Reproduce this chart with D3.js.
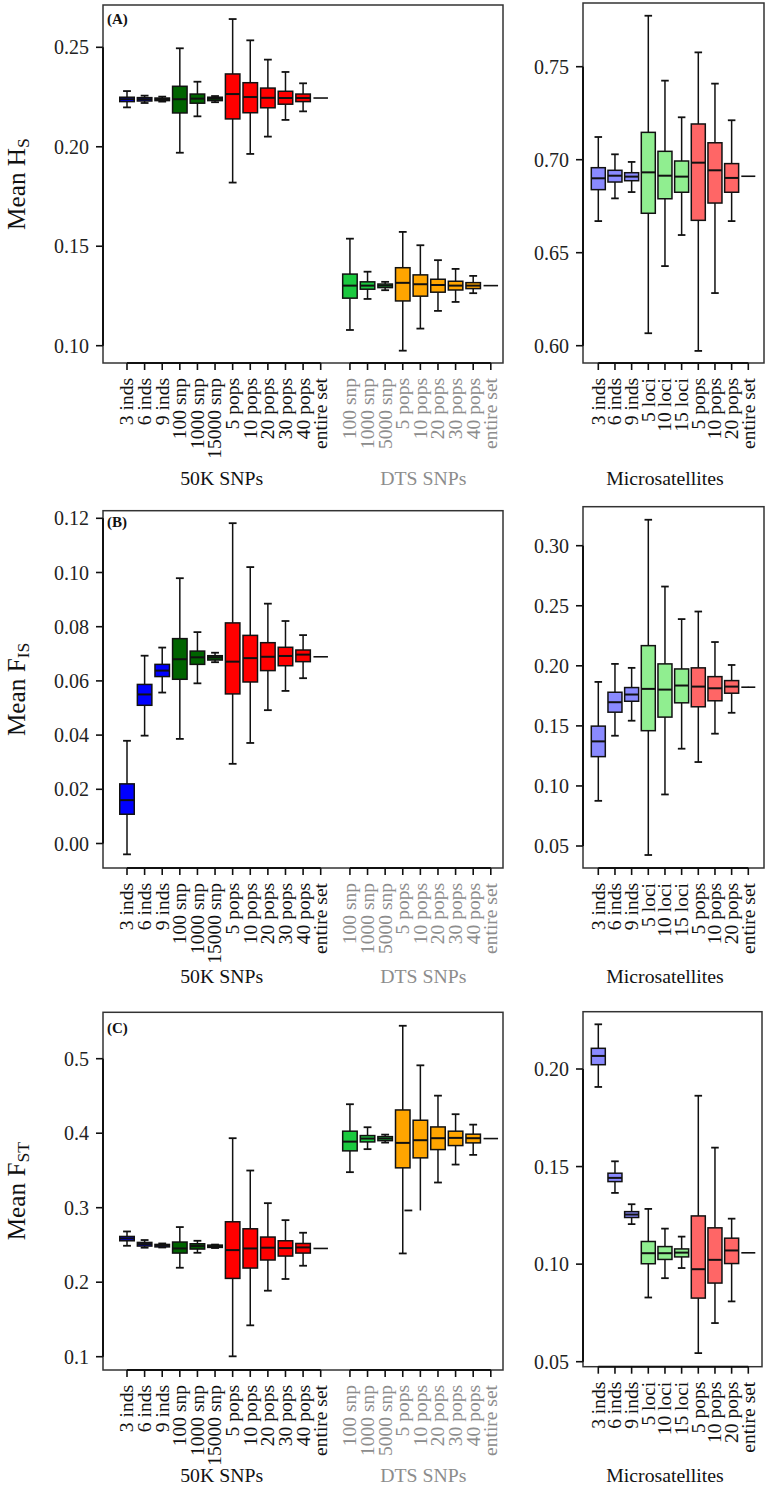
<!DOCTYPE html>
<html><head><meta charset="utf-8">
<script src="https://cdn.jsdelivr.net/npm/d3@7"></script>
<style>
body{margin:0;background:#fff}
svg{display:block}
text{font-family:"Liberation Serif","Times New Roman",serif}
</style>
</head><body>
<svg id="c" width="766" height="1487" font-family="Liberation Serif, Times New Roman, serif"></svg>
<script>
// ---------------- categories & tick labels ----------------
const cats50K = ["3 inds","6 inds","9 inds","100 snp","1000 snp","15000 snp","5 pops","10 pops","20 pops","30 pops","40 pops","entire set"];
const catsDTS = ["100 snp","1000 snp","5000 snp","5 pops","10 pops","20 pops","30 pops","40 pops","entire set"];
const catsMicro = ["3 inds","6 inds","9 inds","5 loci","10 loci","15 loci","5 pops","10 pops","20 pops","entire set"];
const group50K = ["inds","inds","inds","snp","snp","snp","pops","pops","pops","pops","pops","entire"];
const groupDTS = ["snpD","snpD","snpD","popsD","popsD","popsD","popsD","popsD","entire"];
const groupMicro = ["indsM","indsM","indsM","lociM","lociM","lociM","popsM","popsM","popsM","entire"];

const hsTicks = [0.10,0.15,0.20,0.25];
const hsMicroTicks = [0.60,0.65,0.70,0.75];
const fisTicks = [0.00,0.02,0.04,0.06,0.08,0.10,0.12];
const fisMicroTicks = [0.05,0.10,0.15,0.20,0.25,0.30];
const fstTicks = [0.1,0.2,0.3,0.4,0.5];
const fstMicroTicks = [0.05,0.10,0.15,0.20];

// ---------------- values: [lower whisker, Q1, median, Q3, upper whisker] ----------------
const hs50K = [
 [0.2198,0.2227,0.2239,0.2249,0.2280],
 [0.2220,0.2230,0.2239,0.2247,0.2257],
 [0.2227,0.2232,0.2240,0.2245,0.2252],
 [0.1970,0.2170,0.2239,0.2304,0.2495],
 [0.2153,0.2219,0.2242,0.2265,0.2327],
 [0.2224,0.2232,0.2242,0.2249,0.2255],
 [0.1820,0.2140,0.2265,0.2366,0.2642],
 [0.1964,0.2171,0.2250,0.2322,0.2535],
 [0.2051,0.2196,0.2246,0.2295,0.2438],
 [0.2135,0.2214,0.2245,0.2279,0.2376],
 [0.2178,0.2227,0.2245,0.2265,0.2319],
 [0.2245,0.2245,0.2245,0.2245,0.2245]];
const hsDTS = [
 [0.1079,0.1239,0.1302,0.1360,0.1538],
 [0.1235,0.1284,0.1302,0.1321,0.1372],
 [0.1279,0.1292,0.1302,0.1310,0.1321],
 [0.0975,0.1225,0.1316,0.1392,0.1572],
 [0.1086,0.1249,0.1309,0.1356,0.1505],
 [0.1175,0.1269,0.1305,0.1334,0.1430],
 [0.1220,0.1280,0.1302,0.1324,0.1386],
 [0.1264,0.1287,0.1302,0.1317,0.1351],
 [0.1302,0.1302,0.1302,0.1302,0.1302]];
const hsMicro = [
 [0.6670,0.6839,0.6900,0.6957,0.7122],
 [0.6792,0.6880,0.6914,0.6943,0.7029],
 [0.6826,0.6887,0.6909,0.6930,0.6988],
 [0.6067,0.6712,0.6932,0.7147,0.7774],
 [0.6428,0.6790,0.6914,0.7045,0.7425],
 [0.6595,0.6825,0.6909,0.6993,0.7228],
 [0.5972,0.6674,0.6984,0.7192,0.7577],
 [0.6283,0.6767,0.6943,0.7091,0.7409],
 [0.6670,0.6825,0.6902,0.6979,0.7212],
 [0.6911,0.6911,0.6911,0.6911,0.6911]];

const fis50K = [
 [-0.0040,0.0108,0.0160,0.0220,0.0379],
 [0.0398,0.0510,0.0550,0.0587,0.0693],
 [0.0557,0.0616,0.0638,0.0661,0.0723],
 [0.0386,0.0606,0.0680,0.0756,0.0979],
 [0.0591,0.0661,0.0687,0.0710,0.0780],
 [0.0669,0.0677,0.0687,0.0693,0.0704],
 [0.0294,0.0552,0.0671,0.0814,0.1182],
 [0.0371,0.0596,0.0684,0.0768,0.1020],
 [0.0492,0.0638,0.0689,0.0741,0.0885],
 [0.0563,0.0656,0.0692,0.0724,0.0821],
 [0.0610,0.0671,0.0697,0.0714,0.0769],
 [0.0689,0.0689,0.0689,0.0689,0.0689]];
const fisDTS = [];
const fisMicro = [
 [0.0876,0.1244,0.1371,0.1498,0.1866],
 [0.1418,0.1614,0.1697,0.1780,0.2016],
 [0.1543,0.1705,0.1761,0.1819,0.1983],
 [0.0425,0.1460,0.1808,0.2168,0.3216],
 [0.0929,0.1573,0.1802,0.2016,0.2660],
 [0.1310,0.1692,0.1836,0.1974,0.2389],
 [0.1199,0.1659,0.1827,0.1983,0.2452],
 [0.1435,0.1709,0.1813,0.1910,0.2198],
 [0.1609,0.1772,0.1827,0.1877,0.2007],
 [0.1818,0.1820,0.1822,0.1824,0.1826]];

const fst50K = [
 [0.2489,0.2556,0.2587,0.2614,0.2681],
 [0.2463,0.2485,0.2512,0.2534,0.2566],
 [0.2466,0.2474,0.2493,0.2507,0.2520],
 [0.2194,0.2391,0.2453,0.2539,0.2740],
 [0.2395,0.2445,0.2485,0.2516,0.2556],
 [0.2459,0.2467,0.2480,0.2498,0.2505],
 [0.1005,0.2051,0.2431,0.2811,0.3933],
 [0.1421,0.2190,0.2453,0.2717,0.3499],
 [0.1886,0.2298,0.2463,0.2606,0.3061],
 [0.2043,0.2351,0.2458,0.2556,0.2833],
 [0.2221,0.2391,0.2467,0.2520,0.2664],
 [0.2453,0.2453,0.2453,0.2453,0.2453]];
const fstDTS = [
 [0.3477,0.3763,0.3887,0.4027,0.4389],
 [0.3786,0.3883,0.3928,0.3968,0.4080],
 [0.3874,0.3900,0.3928,0.3954,0.3981],
 [0.2386,0.3535,0.3870,0.4312,0.5442],
 [0.2963,0.3669,0.3906,0.4174,0.4911],
 [0.3338,0.3780,0.3933,0.4084,0.4504],
 [0.3579,0.3834,0.3937,0.4027,0.4255],
 [0.3709,0.3870,0.3933,0.3987,0.4115],
 [0.3928,0.3928,0.3928,0.3928,0.3928]];
const fstMicro = [
 [0.1908,0.2022,0.2067,0.2106,0.2229],
 [0.1365,0.1423,0.1442,0.1466,0.1527],
 [0.1205,0.1239,0.1254,0.1269,0.1307],
 [0.0829,0.1002,0.1056,0.1116,0.1283],
 [0.0928,0.1024,0.1056,0.1090,0.1182],
 [0.0980,0.1037,0.1059,0.1078,0.1141],
 [0.0544,0.0826,0.0974,0.1247,0.1863],
 [0.0698,0.0903,0.1022,0.1186,0.1597],
 [0.0809,0.1003,0.1070,0.1133,0.1233],
 [0.1058,0.1058,0.1058,0.1058,0.1058]];

// ---------------- styling ----------------
const colors = {inds:"#0000ff", snp:"#006400", pops:"#ff0000", snpD:"#1bc93f", popsD:"#ffa500",
  indsM:"#8a8aff", lociM:"#90ee90", popsM:"#ff6666", entire:"#ffffff"};
const greyText = "#8c8c8c";

const svg = d3.select("#c");

// text measuring helper: picks a font size so a reference string reaches a target length
const meas = svg.append("text").attr("font-size",100).attr("visibility","hidden");
function fitSize(str, target, weight){
  meas.attr("font-weight", weight||"normal").text(str);
  const l = meas.node().getComputedTextLength();
  return l > 0 ? 100*target/l : 19;
}
const LABEL_SIZE = Math.max(15, Math.min(24, fitSize("entire set", 71)));
const TICK_SIZE = Math.max(15, Math.min(24, fitSize("0.25", 35)));
const SEC_SIZE = Math.max(15, Math.min(24, fitSize("50K SNPs", 83)));
const TITLE_SIZE = Math.max(20, Math.min(32, fitSize("Mean H", 82)));
meas.remove();

// layout of the three rows
const rows = [
 {letter:"(A)", title:["Mean H","S"], left:{x0:103,x1:503,y0:5,y1:363, dom:[0.10,0.25], rng:[345.7,47.3], ticks:hsTicks, fmt:d3.format(".2f"), d50:hs50K, dDTS:hsDTS},
  right:{x0:583,x1:764,y0:3,y1:363, dom:[0.60,0.75], rng:[345.7,66.7], ticks:hsMicroTicks, fmt:d3.format(".2f"), d:hsMicro}, secY:485, letterY:24},
 {letter:"(B)", title:["Mean F","IS"], left:{x0:103,x1:503,y0:510.7,y1:868, dom:[0.00,0.12], rng:[843.5,518.3], ticks:fisTicks, fmt:d3.format(".2f"), d50:fis50K, dDTS:fisDTS},
  right:{x0:583,x1:764,y0:506.7,y1:868, dom:[0.05,0.30], rng:[846,545.7], ticks:fisMicroTicks, fmt:d3.format(".2f"), d:fisMicro}, secY:983, letterY:527},
 {letter:"(C)", title:["Mean F","ST"], left:{x0:103,x1:503,y0:1012.3,y1:1370, dom:[0.1,0.5], rng:[1356.7,1058.7], ticks:fstTicks, fmt:d3.format(".1f"), d50:fst50K, dDTS:fstDTS},
  right:{x0:583,x1:762,y0:1011.7,y1:1366.7, dom:[0.05,0.20], rng:[1361.7,1069], ticks:fstMicroTicks, fmt:d3.format(".2f"), d:fstMicro}, secY:1482, letterY:1033}
];

const xLeft = d3.scaleLinear().domain([1,12]).range([127,320.7]);
const posDTS = catsDTS.map((c,j)=>13.66+j);
const pos50K = cats50K.map((c,i)=>1+i);
const xMicro = d3.scaleLinear().domain([1,10]).range([598.3,748.3]);
const posMicro = catsMicro.map((c,i)=>1+i);

function drawBoxes(g, data, groups, xs, ps, y, bw, capShift){
  data.forEach((d,i)=>{
    const cx = xs(ps[i]);
    const [lo,q1,med,q3,hi] = d;
    const grp = groups[i];
    const bg = g.append("g");
    bg.append("line").attr("x1",cx).attr("x2",cx).attr("y1",y(q3)).attr("y2",y(hi)).attr("stroke","#111").attr("stroke-width",1.5);
    bg.append("line").attr("x1",cx).attr("x2",cx).attr("y1",y(q1)).attr("y2",y(lo)).attr("stroke","#111").attr("stroke-width",1.5);
    const cw = bw*0.27;
    const ls = (capShift && capShift[i]) || 0;
    if (grp !== "entire") {
      bg.append("line").attr("x1",cx-cw).attr("x2",cx+cw).attr("y1",y(hi)).attr("y2",y(hi)).attr("stroke","#111").attr("stroke-width",1.8);
      bg.append("line").attr("x1",cx-cw+ls).attr("x2",cx+cw+ls).attr("y1",y(lo)).attr("y2",y(lo)).attr("stroke","#111").attr("stroke-width",1.8);
      bg.append("rect").attr("x",cx-bw/2).attr("width",bw).attr("y",y(q3)).attr("height",Math.max(0,y(q1)-y(q3)))
        .attr("fill",colors[grp]).attr("stroke","#111").attr("stroke-width",1.5);
    }
    bg.append("line").attr("x1",cx-bw/2).attr("x2",cx+bw/2).attr("y1",y(med)).attr("y2",y(med)).attr("stroke","#111").attr("stroke-width",grp==="entire"?1.6:2);
  });
}

function drawYAxis(p, y){
  const g = svg.append("g");
  g.append("line").attr("x1",p.x0).attr("x2",p.x0).attr("y1",y(p.ticks[0])).attr("y2",y(p.ticks[p.ticks.length-1])).attr("stroke","#111").attr("stroke-width",2);
  p.ticks.forEach(t=>{
    g.append("line").attr("x1",p.x0-7).attr("x2",p.x0).attr("y1",y(t)).attr("y2",y(t)).attr("stroke","#111").attr("stroke-width",1.6);
    g.append("text").attr("x",p.x0-14).attr("y",y(t)).attr("dy","0.35em").attr("text-anchor","end")
      .attr("font-size",TICK_SIZE).attr("fill","#222").text(p.fmt(t));
  });
}

function drawXAxis(y1, xs, ps, cats, color){
  const g = svg.append("g");
  g.append("line").attr("x1",xs(ps[0])).attr("x2",xs(ps[ps.length-1])).attr("y1",y1).attr("y2",y1).attr("stroke","#111").attr("stroke-width",2);
  cats.forEach((c,i)=>{
    const x = xs(ps[i]);
    g.append("line").attr("x1",x).attr("x2",x).attr("y1",y1).attr("y2",y1+7).attr("stroke","#111").attr("stroke-width",1.6);
    g.append("text").attr("transform",`translate(${x},${y1+15}) rotate(-90)`).attr("dy","0.33em")
      .attr("text-anchor","end").attr("font-size",LABEL_SIZE).attr("fill",color).text(c);
  });
}

rows.forEach((r, ri)=>{
  const L = r.left, R = r.right;
  const yL = d3.scaleLinear().domain(L.dom).range(L.rng);
  const yR = d3.scaleLinear().domain(R.dom).range(R.rng);

  svg.append("rect").attr("x",L.x0).attr("y",L.y0).attr("width",L.x1-L.x0).attr("height",L.y1-L.y0).attr("fill","none").attr("stroke","#333").attr("stroke-width",1.5);
  svg.append("rect").attr("x",R.x0).attr("y",R.y0).attr("width",R.x1-R.x0).attr("height",R.y1-R.y0).attr("fill","none").attr("stroke","#333").attr("stroke-width",1.5);

  const gL = svg.append("g");
  drawBoxes(gL, L.d50, group50K, xLeft, pos50K, yL, 14.5);
  drawBoxes(gL, L.dDTS, groupDTS, xLeft, posDTS, yL, 14.5, ri===2 ? [0,0,0,0,-12,0,0,0,0] : null);
  drawBoxes(svg.append("g"), R.d, groupMicro, xMicro, posMicro, yR, 14);

  drawYAxis(L, yL);
  drawYAxis(R, yR);
  drawXAxis(L.y1, xLeft, pos50K, cats50K, "#111");
  drawXAxis(L.y1, xLeft, posDTS, catsDTS, greyText);
  drawXAxis(R.y1, xMicro, posMicro, catsMicro, "#111");

  svg.append("text").attr("x",221.7).attr("y",r.secY).attr("text-anchor","middle").attr("font-size",SEC_SIZE).attr("fill","#111").text("50K SNPs");
  svg.append("text").attr("x",423.3).attr("y",r.secY).attr("text-anchor","middle").attr("font-size",SEC_SIZE).attr("fill",greyText).text("DTS SNPs");
  svg.append("text").attr("x",665).attr("y",r.secY).attr("text-anchor","middle").attr("font-size",SEC_SIZE).attr("fill","#111").text("Microsatellites");

  svg.append("text").attr("x",107).attr("y",r.letterY).attr("font-size",15).attr("font-weight","bold").attr("fill","#111").text(r.letter);

  const cy = (L.y0+L.y1)/2;
  const t = svg.append("text").attr("transform",`translate(25,${cy}) rotate(-90)`).attr("text-anchor","middle").attr("font-size",TITLE_SIZE).attr("fill","#111");
  t.append("tspan").text(r.title[0]);
  t.append("tspan").attr("font-size",TITLE_SIZE*0.7).attr("dy","0.2em").text(r.title[1]);
});
</script>
</body></html>
